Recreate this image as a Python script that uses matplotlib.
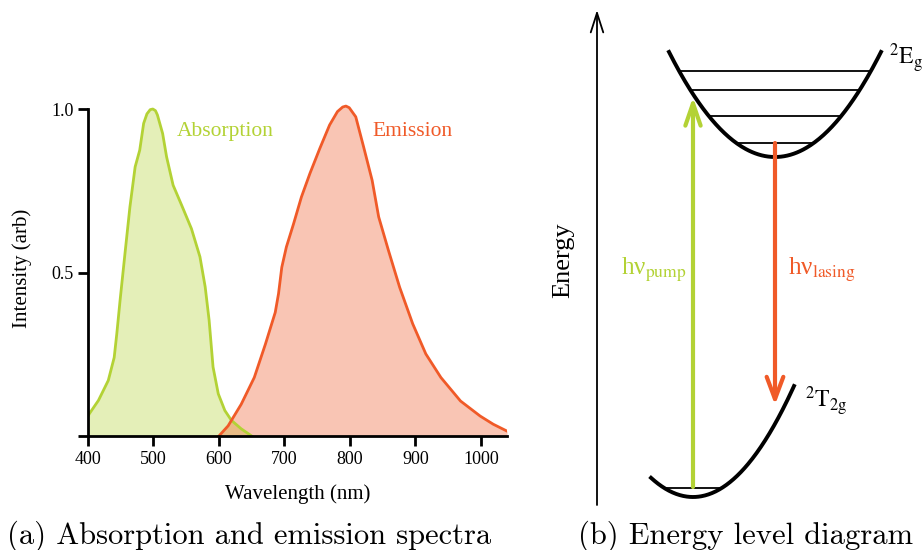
import numpy as np
import matplotlib
matplotlib.use("Agg")
import matplotlib.pyplot as plt

plt.rcParams['font.family'] = ['Liberation Serif', 'DejaVu Serif']
plt.rcParams['mathtext.fontset'] = 'stix'

GREEN = '#b3d235'
ORANGE = '#f05a28'

# absorption spectrum (nm, arb)
abs_wl = [400, 402, 416, 431, 440, 444, 449, 457, 464, 472, 479, 485, 490, 495,
          499, 503, 506, 514, 520, 530, 543, 558, 571, 579, 585, 591, 599, 609,
          619, 634, 650]
abs_int = [0.06, 0.068, 0.109, 0.17, 0.24, 0.313, 0.415, 0.568, 0.70, 0.823,
           0.874, 0.956, 0.985, 0.998, 1.0, 0.995, 0.982, 0.925, 0.854, 0.767,
           0.706, 0.634, 0.548, 0.456, 0.354, 0.211, 0.129, 0.078, 0.048,
           0.022, 0.0]

# emission spectrum (nm, arb)
em_wl = [600, 614, 634, 654, 671, 686, 691, 696, 703, 714, 726, 739, 754, 769,
         781, 789, 794, 799, 809, 821, 834, 844, 859, 876, 896, 916, 939, 969,
         999, 1019, 1040]
em_int = [0.0, 0.031, 0.097, 0.179, 0.281, 0.378, 0.435, 0.516, 0.578, 0.649,
          0.731, 0.803, 0.879, 0.951, 0.992, 1.006, 1.009, 1.004, 0.976, 0.884,
          0.782, 0.670, 0.567, 0.455, 0.343, 0.251, 0.179, 0.107, 0.061, 0.036,
          0.015]

xticks = [400, 500, 600, 700, 800, 900, 1000]
yticks = [0, 0.5, 1.0]
ytick_labels = ['', '0.5', '1.0']

# energy level diagram, in figure pixels
upper_x0, upper_y0, upper_a = 775, 157, 0.00935      # 2Eg well
upper_span = [669, 881]
upper_levels = [71, 90, 116, 143]
lower_x0, lower_y0, lower_a = 693, 497, 0.01088      # 2T2g well
lower_span = [651, 794]
lower_levels = [488]
pump_x, pump_y = 693, [487, 97]
lase_x, lase_y = 775, [143, 405]

W, H = 922, 550
fig = plt.figure(figsize=(W / 100, H / 100), dpi=100)

# (a) spectra
ax = fig.add_axes([88 / W, 1 - 436 / H, (507 - 88) / W, (436 - 100) / H])
ax.fill_between(abs_wl, abs_int, color=GREEN, alpha=0.35, lw=0)
ax.plot(abs_wl, abs_int, color=GREEN, lw=2, solid_joinstyle='round')
ax.fill_between(em_wl, em_int, color=ORANGE, alpha=0.35, lw=0)
ax.plot(em_wl, em_int, color=ORANGE, lw=2, solid_joinstyle='round')
ax.set_xlim(400, 1040)
ax.set_ylim(0, (436 - 100) / (436 - 109))
ax.spines['top'].set_visible(False)
ax.spines['right'].set_visible(False)
ax.spines['left'].set_bounds(0, 1.0)
for s in ['left', 'bottom']:
    ax.spines[s].set_linewidth(2)
ax.set_xticks(xticks)
ax.set_yticks(yticks)
ax.set_yticklabels(ytick_labels)
ax.tick_params(direction='out', length=7, width=2, labelsize=13)
ax.set_xlabel('Wavelength (nm)', fontsize=15, labelpad=12)
ax.set_ylabel('Intensity (arb)', fontsize=15, labelpad=14)
ax.text(536, 0.93, 'Absorption', color=GREEN, fontsize=15.5, va='center')
ax.text(835, 0.93, 'Emission', color=ORANGE, fontsize=15.5, va='center')

# (b) energy levels
ax2 = fig.add_axes([0, 0, 1, 1], facecolor='none')
ax2.set_xlim(0, W)
ax2.set_ylim(H, 0)
ax2.axis('off')

xs = np.linspace(upper_span[0], upper_span[1], 200)
ax2.plot(xs, upper_y0 - upper_a * (xs - upper_x0) ** 2, color='black', lw=2.8)
for y in upper_levels:
    d = np.sqrt((upper_y0 - y) / upper_a)
    ax2.plot([upper_x0 - d, upper_x0 + d], [y, y], color='black', lw=1.3)

xs = np.linspace(lower_span[0], lower_span[1], 200)
ax2.plot(xs, lower_y0 - lower_a * (xs - lower_x0) ** 2, color='black', lw=2.8)
for y in lower_levels:
    d = np.sqrt((lower_y0 - y) / lower_a)
    ax2.plot([lower_x0 - d, lower_x0 + d], [y, y], color='black', lw=1.3)

# energy axis
ax2.annotate('', xy=(597, 10), xytext=(597, 505),
             arrowprops=dict(arrowstyle='->,head_length=1.4,head_width=0.45',
                             color='black', lw=1.3, shrinkA=0, shrinkB=0))
ax2.text(563, 260, 'Energy', rotation=90, fontsize=19, ha='center', va='center')

ax2.annotate('', xy=(pump_x, pump_y[1]), xytext=(pump_x, pump_y[0]),
             arrowprops=dict(arrowstyle='->,head_length=1.6,head_width=0.55',
                             color=GREEN, lw=3, shrinkA=0, shrinkB=0))
ax2.annotate('', xy=(lase_x, lase_y[1]), xytext=(lase_x, lase_y[0]),
             arrowprops=dict(arrowstyle='->,head_length=1.6,head_width=0.6',
                             color=ORANGE, lw=3, shrinkA=0, shrinkB=0))
ax2.text(687, 275, r'hν$_{\mathrm{pump}}$', color=GREEN, fontsize=18,
         ha='right', va='baseline')
ax2.text(788, 275, r'hν$_{\mathrm{lasing}}$', color=ORANGE, fontsize=18,
         ha='left', va='baseline')
ax2.text(889, 65, r'$^{2}\mathrm{E}_{\mathrm{g}}$', fontsize=17, va='baseline')
ax2.text(805, 408, r'$^{2}\mathrm{T}_{\mathrm{2g}}$', fontsize=17, va='baseline')

# captions
fig.text(249 / W, 1 - 536 / H, '(a) Absorption and emission spectra',
         family='cmr10', fontsize=22, ha='center', va='center')
fig.text(745 / W, 1 - 536 / H, '(b) Energy level diagram',
         family='cmr10', fontsize=22, ha='center', va='center')

fig.savefig('out.png', dpi=100)
